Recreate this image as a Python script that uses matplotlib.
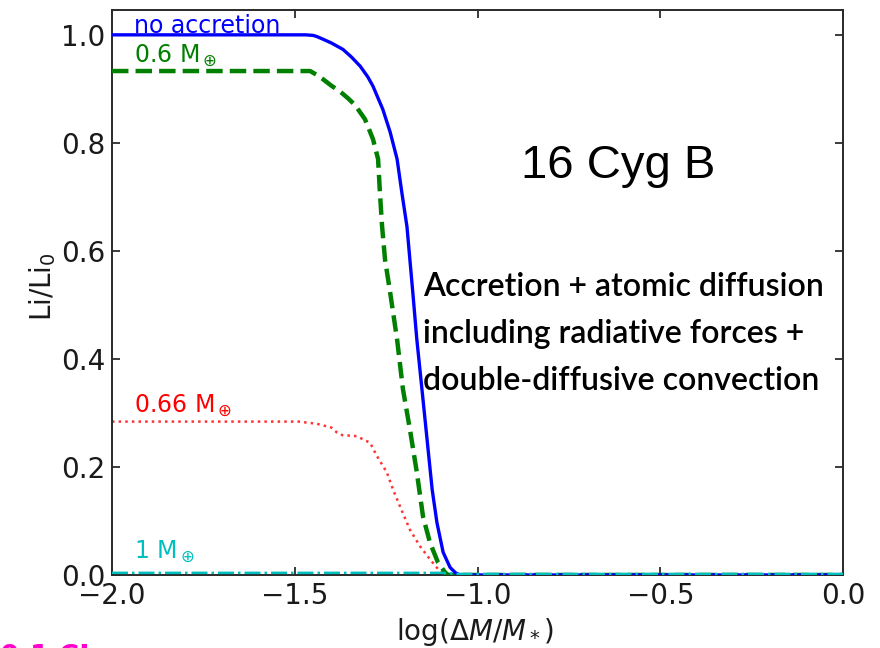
import matplotlib
matplotlib.use("Agg")
import matplotlib.pyplot as plt

# ---- data ----
x_noacc = [-2.0, -1.47, -1.45, -1.44, -1.423, -1.40, -1.368, -1.345, -1.321, -1.30,
           -1.286, -1.259, -1.239, -1.220, -1.207, -1.193, -1.185, -1.177, -1.166, -1.152,
           -1.138, -1.124, -1.111, -1.094, -1.075, -1.060, -1.048, 0.0]
y_noacc = [1.0, 1.0, 0.999, 0.997, 0.992, 0.985, 0.973, 0.959, 0.942, 0.922,
           0.905, 0.862, 0.820, 0.770, 0.708, 0.645, 0.584, 0.523, 0.436, 0.344,
           0.251, 0.158, 0.097, 0.042, 0.014, 0.004, 0.0, 0.0]

x_06 = [-2.0, -1.458, -1.44, -1.423, -1.40, -1.376, -1.355, -1.335, -1.308, -1.286,
        -1.272, -1.267, -1.261, -1.253, -1.239, -1.220, -1.204, -1.185, -1.166, -1.149,
        -1.130, -1.108, -1.089, -1.08, 0.0]
y_06 = [0.933, 0.933, 0.926, 0.918, 0.906, 0.895, 0.883, 0.870, 0.844, 0.807,
        0.770, 0.708, 0.645, 0.584, 0.523, 0.436, 0.344, 0.270, 0.190, 0.108,
        0.060, 0.023, 0.005, 0.0, 0.0]

x_066 = [-2.0, -1.49, -1.44, -1.40, -1.385, -1.37, -1.33, -1.31, -1.294, -1.275,
         -1.248, -1.231, -1.212, -1.185, -1.157, -1.130, -1.103, -1.09, 0.0]
y_066 = [0.284, 0.284, 0.280, 0.273, 0.264, 0.259, 0.257, 0.250, 0.245, 0.220,
         0.190, 0.158, 0.127, 0.084, 0.053, 0.029, 0.007, 0.0, 0.0]

x_1 = [-2.0, -1.1, -1.05, 0.0]
y_1 = [0.004, 0.004, 0.002, 0.002]

xticks = [-2.0, -1.5, -1.0, -0.5, 0.0]
yticks = [0.0, 0.2, 0.4, 0.6, 0.8, 1.0]

fig = plt.figure(figsize=(8.8, 6.48), dpi=100)
ax = fig.add_axes([112/880, 1-575/648, (843-112)/880, (575-10)/648])

ax.plot(x_noacc, y_noacc, color='#0000ff', lw=2.4, solid_joinstyle='round', zorder=4)
ax.plot(x_06, y_06, color='#007f00', lw=3.2, ls='--', zorder=3)
ax.plot(x_066, y_066, color='#ff0000', lw=1.8, ls=':', alpha=0.8, zorder=2)
ax.plot(x_1, y_1, color='#00bfbf', lw=1.8, ls='-.', zorder=5)

ax.set_xlim(-2.0, 0.0)
ax.set_ylim(0.0, 1.046)
ax.set_xticks(xticks)
ax.set_yticks(yticks)
ax.set_xticklabels([f"{t:.1f}".replace('-', '\u2212') for t in xticks])
ax.set_yticklabels([f"{t:.1f}" for t in yticks])
ax.tick_params(direction='in', length=6, width=1.2, top=True, right=True,
               labelsize=20, pad=5, colors='#1a1a1a')
for s in ax.spines.values():
    s.set_linewidth(1.4)
    s.set_color('#2a2a2a')

ax.set_xlabel(r'log($\Delta M/M_*$)', fontsize=20, color='#1a1a1a')
ax.xaxis.set_label_coords((475-112)/731, (575-632)/565)
ax.set_ylabel(r'Li/Li$_0$', fontsize=20, color='#1a1a1a')
ax.yaxis.set_label_coords((43-112)/731, (575-287)/565)
ax.xaxis.label.set_va('center')
ax.yaxis.label.set_va('center')

lab_fs = 17
ax.text(-1.94, 1.004, 'no accretion', color='#0000ff', fontsize=lab_fs, va='baseline')
ax.text(-1.94, 0.948, r'0.6 M$_\oplus$', color='#007f00', fontsize=lab_fs, va='baseline')
ax.text(-1.94, 0.300, r'0.66 M$_\oplus$', color='#ff0000', fontsize=lab_fs, va='baseline')
ax.text(-1.94, 0.031, r'1 M$_\oplus$', color='#00bfbf', fontsize=lab_fs, va='baseline')

ax.text(-0.616, 0.757, '16 Cyg B', fontsize=34, family='Liberation Sans',
        ha='center', va='center', color='black')

ann = ['Accretion + atomic diffusion',
       'including radiative forces +',
       'double-diffusive convection']
for i, line in enumerate(ann):
    ax.text(-1.149, (575-287-47*i)/540, line, fontsize=23, family='Lato',
            fontweight='semibold', ha='left', va='center', color='black')

fig.text(0.0, 5/648, '0.1 CI', color='#ff00cc', fontsize=20, fontweight='bold',
         va='top', ha='left')

fig.savefig('out.png', dpi=100)
